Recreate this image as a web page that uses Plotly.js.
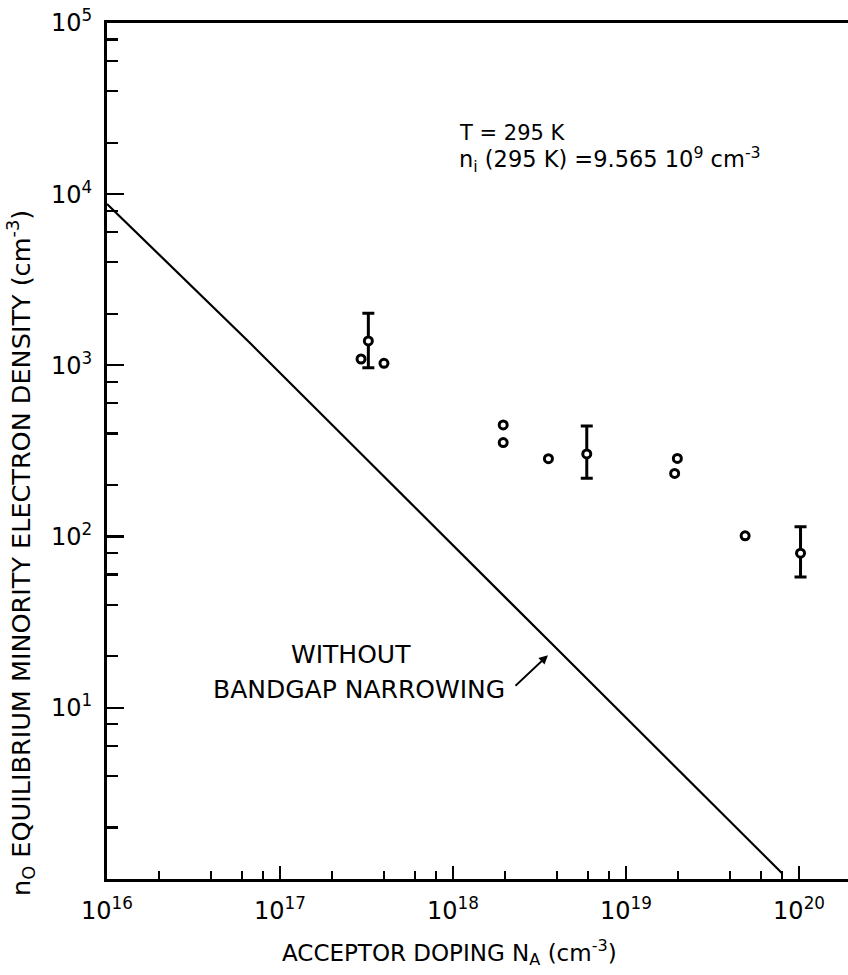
<!DOCTYPE html>
<html>
<head>
<meta charset="utf-8">
<script src="https://cdn.plot.ly/plotly-3.0.1.min.js"></script>
<style>
  html, body { margin: 0; padding: 0; background: #ffffff; }
  #chart { width: 848px; height: 975px; }
</style>
</head>
<body>
<div id="chart"></div>
<script>
// ---- Data ----
// Theoretical curve: without bandgap narrowing
const curveNA = [1e16, 6.71e16, 3.64e18, 7.98e19];
const curveN0 = [8770, 1352, 24.2, 1.08];

// Measured points (no error bar)
const ptsNA = [2.94e17, 3.99e17, 1.95e18, 1.95e18, 3.56e18, 1.98e19, 1.91e19, 4.88e19];
const ptsN0 = [1090, 1029, 449, 354, 285, 286, 234, 101];

// Measured points with error bars
const errNA = [3.24e17, 5.93e18, 1.02e20];
const errN0 = [1390, 304, 80];
const errHigh = [2015, 443, 114];
const errLow = [970, 219, 58];

// Arrow target on the curve (label pointer)
const arrowNA = 3.54e18;
const arrowN0 = 20.3;

// Axis ticks
const xTickVals = [1e16, 1e17, 1e18, 1e19, 1e20];
const xTickText = ['10<sup>16</sup>', '10<sup>17</sup>', '10<sup>18</sup>', '10<sup>19</sup>', '10<sup>20</sup>'];
const yTickVals = [1e1, 1e2, 1e3, 1e4, 1e5];
const yTickText = ['10<sup>1</sup>', '10<sup>2</sup>', '10<sup>3</sup>', '10<sup>4</sup>', '10<sup>5</sup>'];
const minorMult = [2, 4, 6, 8];
const xDecades = [1e16, 1e17, 1e18, 1e19];
const yDecades = [1e0, 1e1, 1e2, 1e3, 1e4];

// Texts
const xTitle = 'ACCEPTOR DOPING N<sub>A</sub> (cm<sup>-3</sup>)';
const yTitle = 'n<sub>O</sub> EQUILIBRIUM MINORITY ELECTRON DENSITY (cm<sup>-3</sup>)';
const noteT = 'T = 295 K';
const noteNi = 'n<sub>i</sub> (295 K) =9.565 10<sup>9</sup> cm<sup>-3</sup>';
const curveLabel1 = 'WITHOUT';
const curveLabel2 = 'BANDGAP NARROWING';

// ---- Build ----
const xMinor = [];
xDecades.forEach(d => minorMult.forEach(m => xMinor.push(m * d)));
const yMinor = [];
yDecades.forEach(d => minorMult.forEach(m => yMinor.push(m * d)));

const errPlus = errHigh.map((h, i) => h - errN0[i]);
const errMinus = errLow.map((l, i) => errN0[i] - l);

const FONT = 'DejaVu Sans, Liberation Sans, Arial, sans-serif';

const traces = [
  {
    x: curveNA, y: curveN0, type: 'scatter', mode: 'lines',
    line: { color: '#000', width: 2.2 }, hoverinfo: 'skip', showlegend: false
  },
  {
    x: errNA, y: errN0, type: 'scatter', mode: 'markers',
    marker: { symbol: 'circle', size: 8, color: '#fff', line: { color: '#000', width: 3 } },
    error_y: { type: 'data', symmetric: false, array: errPlus, arrayminus: errMinus,
               color: '#000', thickness: 3, width: 6 },
    showlegend: false
  },
  {
    x: ptsNA, y: ptsN0, type: 'scatter', mode: 'markers',
    marker: { symbol: 'circle', size: 8, color: '#fff', line: { color: '#000', width: 3 } },
    showlegend: false
  }
];

// plot area in px: x 107..848, y 23..879
const L = 107, R = 848, T = 23, B = 879;
const px = v => (v - L) / (R - L);
const py = v => (B - v) / (B - T);

const layout = {
  width: 848, height: 975,
  margin: { l: L, r: 848 - R, t: T, b: 975 - B, pad: 0 },
  paper_bgcolor: '#fff', plot_bgcolor: '#fff',
  font: { family: FONT, color: '#000', size: 20 },
  showlegend: false,
  xaxis: {
    type: 'log', range: [16, 20.283],
    tickmode: 'array', tickvals: xTickVals, ticktext: xTickText,
    ticks: 'inside', ticklen: 13, tickwidth: 2.2, tickcolor: '#000',
    showline: true, linewidth: 3, linecolor: '#000', mirror: true,
    showgrid: false, zeroline: false,
    tickfont: { family: FONT, size: 24, color: '#000' },
    ticklabelstandoff: 8,
    minor: { tickmode: 'array', tickvals: xMinor, ticks: 'inside', ticklen: 8, tickwidth: 2.2, tickcolor: '#000', showgrid: false }
  },
  yaxis: {
    type: 'log', range: [0, 5],
    tickmode: 'array', tickvals: yTickVals, ticktext: yTickText,
    ticks: 'inside', ticklen: 17, tickwidth: 2.2, tickcolor: '#000',
    showline: true, linewidth: 3, linecolor: '#000', mirror: false,
    showgrid: false, zeroline: false,
    tickfont: { family: FONT, size: 24, color: '#000' },
    ticklabelstandoff: 7,
    minor: { tickmode: 'array', tickvals: yMinor, ticks: 'inside', ticklen: 11, tickwidth: 2.2, tickcolor: '#000', showgrid: false }
  },
  annotations: [
    { text: xTitle, xref: 'paper', yref: 'paper', x: px(449), y: py(952),
      xanchor: 'center', yanchor: 'middle', showarrow: false, font: { family: FONT, size: 23, color: '#000' } },
    { text: yTitle, xref: 'paper', yref: 'paper', x: px(20), y: py(553), textangle: -90,
      xanchor: 'center', yanchor: 'middle', showarrow: false, font: { family: FONT, size: 25.5, color: '#000' } },
    { text: noteT, xref: 'paper', yref: 'paper', x: px(457), y: py(133),
      xanchor: 'left', yanchor: 'middle', showarrow: false, font: { family: FONT, size: 21, color: '#000' } },
    { text: noteNi, xref: 'paper', yref: 'paper', x: px(457), y: py(160),
      xanchor: 'left', yanchor: 'middle', showarrow: false, font: { family: FONT, size: 22.5, color: '#000' } },
    { text: curveLabel1, xref: 'paper', yref: 'paper', x: px(351), y: py(654),
      xanchor: 'center', yanchor: 'middle', showarrow: false, font: { family: FONT, size: 25, color: '#000' } },
    { text: curveLabel2, xref: 'paper', yref: 'paper', x: px(359), y: py(689),
      xanchor: 'center', yanchor: 'middle', showarrow: false, font: { family: FONT, size: 25, color: '#000' } },
    { text: '', x: Math.log10(arrowNA), y: Math.log10(arrowN0), xref: 'x', yref: 'y',
      ax: -34, ay: 32, axref: 'pixel', ayref: 'pixel',
      showarrow: true, arrowhead: 2, arrowsize: 1, arrowwidth: 1.8, arrowcolor: '#000', standoff: 0 }
  ]
};

Plotly.newPlot('chart', traces, layout, { displayModeBar: false, staticPlot: true });
</script>
</body>
</html>
